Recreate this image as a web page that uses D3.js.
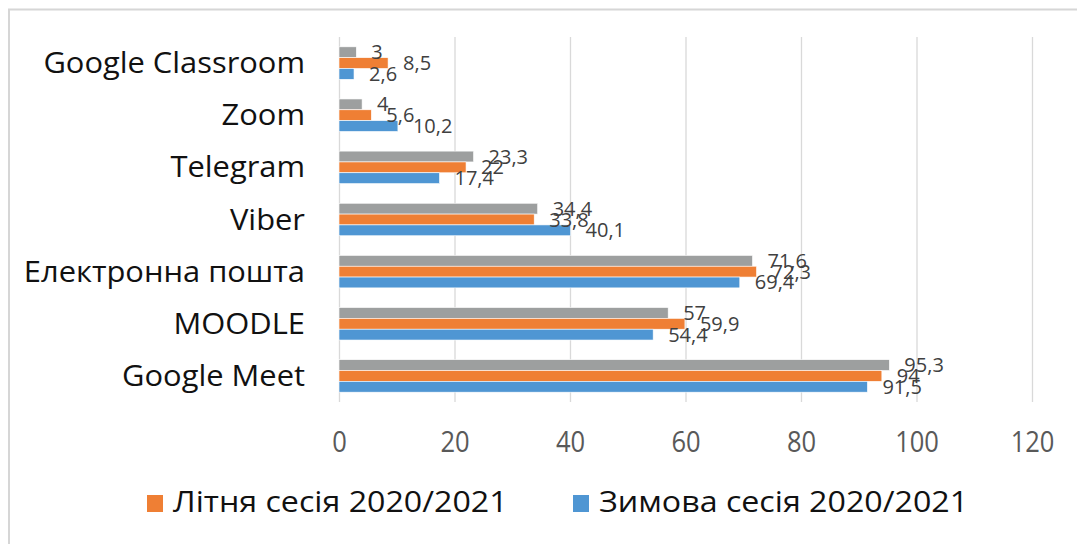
<!DOCTYPE html>
<meta charset="utf-8">
<style>
  body { margin: 0; background: #fff; }
  text { font-family: "Open Sans", sans-serif; }
</style>
<svg width="1077" height="544"></svg>
<script src="https://cdn.jsdelivr.net/npm/d3@7"></script>
<script>
  // categories, bottom to top as in the source table
  const categories = ['Google Meet', 'MOODLE', 'Електронна пошта', 'Viber', 'Telegram', 'Zoom', 'Google Classroom']
  const grayValues = [95.3, 57, 71.6, 34.4, 23.3, 4, 3]
  const summerValues = [94, 59.9, 72.3, 33.8, 22, 5.6, 8.5]
  const winterValues = [91.5, 54.4, 69.4, 40.1, 17.4, 10.2, 2.6]
  const xTicks = [0, 20, 40, 60, 80, 100, 120]
  const legendNames = ['Літня сесія 2020/2021', 'Зимова сесія 2020/2021']

  const colors = { gray: '#9d9f9f', summer: '#ef7f34', winter: '#4f96d3' }

  const svg = d3.select('svg')

  // chart border
  svg.append('rect')
    .attr('x', 9).attr('y', 9.5)
    .attr('width', 1100).attr('height', 600)
    .attr('fill', 'none')
    .attr('stroke', '#d6d6d6')
    .attr('stroke-width', 2)

  const plotTop = 37, plotBottom = 402
  const x = d3.scaleLinear().domain([0, 120]).range([339, 1032])
  const y = d3.scaleBand()
    .domain(categories.slice().reverse())
    .range([plotTop, plotBottom])
    .paddingInner(0.377)
    .paddingOuter(0.1885)
  const sub = d3.scaleBand()
    .domain(['gray', 'summer', 'winter'])
    .range([0, y.bandwidth()])

  // grid + tick labels
  const xAxis = svg.append('g')
    .attr('transform', `translate(0,${plotBottom})`)
    .call(d3.axisBottom(x).tickValues(xTicks).tickSize(-(plotBottom - plotTop)).tickFormat(d3.format('d')))
  xAxis.select('.domain').remove()
  xAxis.selectAll('line').attr('stroke', '#d9d9d9').attr('stroke-width', 1.3)
  xAxis.selectAll('text')
    .attr('y', 50).attr('dy', 0)
    .attr('transform', 'scale(0.88,1)')
    .attr('font-size', 29)
    .attr('fill', '#595959')
    .attr('font-family', '"Open Sans", sans-serif')

  const rows = categories.map((c, i) => ({
    cat: c,
    vals: [
      { key: 'gray', v: grayValues[i] },
      { key: 'summer', v: summerValues[i] },
      { key: 'winter', v: winterValues[i] }
    ]
  }))

  const groups = svg.append('g')
    .selectAll('g')
    .data(rows)
    .enter().append('g')
    .attr('transform', d => `translate(0,${y(d.cat)})`)

  groups.selectAll('rect')
    .data(d => d.vals)
    .enter().append('rect')
    .attr('x', x(0))
    .attr('y', d => sub(d.key))
    .attr('width', d => x(d.v) - x(0))
    .attr('height', sub.bandwidth())
    .attr('fill', d => colors[d.key])
    .attr('stroke', '#fff')
    .attr('stroke-width', 0.6)

  // data labels (they overlap in the original too)
  groups.selectAll('text')
    .data(d => d.vals)
    .enter().append('text')
    .attr('transform', d => `translate(${x(d.v) + 15},${sub(d.key) + sub.bandwidth() / 2 + 7}) scale(1.0,1)`)
    .attr('font-size', 20)
    .attr('fill', '#404040')
    .text(d => String(d.v).replace('.', ','))

  // category labels
  svg.append('g')
    .selectAll('text')
    .data(categories)
    .enter().append('text')
    .attr('transform', d => `translate(305,${y(d) + y.bandwidth() / 2 + 10}) scale(1.065,1)`)
    .attr('text-anchor', 'end')
    .attr('font-size', 29)
    .attr('fill', '#111')
    .text(d => d)

  // legend
  const legend = svg.append('g')
    .selectAll('g')
    .data(legendNames)
    .enter().append('g')
    .attr('transform', (d, i) => `translate(${i ? 573 : 147},0)`)
  legend.append('rect')
    .attr('x', 0).attr('y', 495)
    .attr('width', 16).attr('height', 17)
    .attr('fill', (d, i) => i ? colors.winter : colors.summer)
  legend.append('text')
    .attr('transform', 'translate(26,512) scale(1.11,1)')
    .attr('font-size', 29)
    .attr('fill', '#111')
    .text(d => d)
</script>
